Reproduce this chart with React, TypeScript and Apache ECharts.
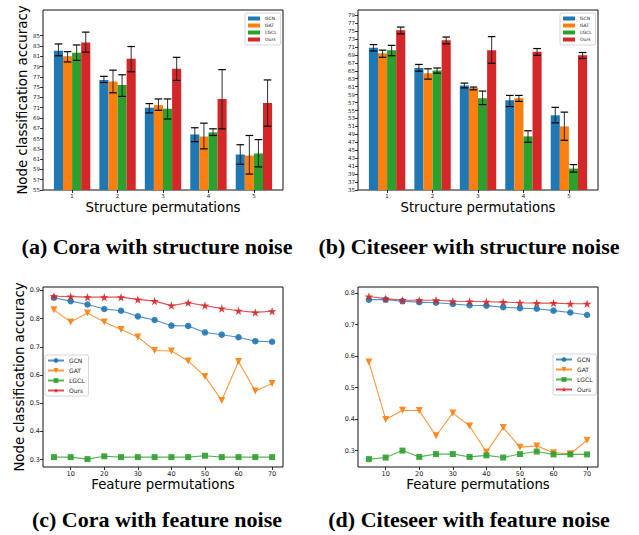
import React, { useEffect, useRef } from "react";
import * as echarts from "echarts";

// ---------- data ----------
const structX = [1, 2, 3, 4, 5];
const structTicks = [1, 2, 3, 4, 5];

const coraGCN = [82.1, 76.4, 71.0, 65.8, 61.9];
const coraGCNLo = [81.1, 75.9, 70.0, 64.4, 60.0];
const coraGCNHi = [83.4, 77.1, 71.8, 67.1, 63.8];
const coraGAT = [81.0, 76.1, 71.5, 65.4, 61.7];
const coraGATLo = [79.9, 73.9, 70.5, 63.0, 58.1];
const coraGATHi = [81.9, 78.3, 72.7, 68.0, 65.6];
const coraLGCL = [81.7, 75.4, 70.8, 66.2, 62.1];
const coraLGCLLo = [80.2, 73.2, 68.8, 65.6, 59.5];
const coraLGCLHi = [83.2, 77.4, 72.7, 66.9, 64.8];
const coraOurs = [83.7, 80.5, 78.6, 72.7, 71.9];
const coraOursLo = [81.8, 78.0, 76.3, 66.9, 67.4];
const coraOursHi = [85.7, 82.9, 80.8, 78.4, 76.4];

const citeGCN = [70.8, 65.7, 61.3, 57.6, 53.8];
const citeGCNLo = [70.0, 64.9, 60.7, 56.0, 51.9];
const citeGCNHi = [71.6, 66.6, 61.9, 58.8, 55.8];
const citeGAT = [69.4, 64.4, 60.7, 58.1, 51.0];
const citeGATLo = [68.4, 62.9, 60.2, 57.3, 47.5];
const citeGATHi = [70.2, 65.5, 60.9, 58.8, 54.6];
const citeLGCL = [70.2, 65.1, 58.1, 48.5, 40.4];
const citeLGCLLo = [68.8, 64.4, 56.5, 47.0, 39.5];
const citeLGCLHi = [71.4, 65.7, 59.9, 49.9, 41.4];
const citeOurs = [75.2, 72.7, 70.2, 69.8, 68.9];
const citeOursLo = [74.3, 71.8, 66.9, 68.9, 68.1];
const citeOursHi = [76.0, 73.5, 73.6, 70.6, 69.6];

const coraYTicks = [55, 57, 59, 61, 63, 65, 67, 69, 71, 73, 75, 77, 79, 81, 83, 85];
const citeYTicks = [35, 37, 39, 41, 43, 45, 47, 49, 51, 53, 55, 57, 59, 61, 63, 65, 67, 69, 71, 73, 75, 77, 79];

const featX = [5, 10, 15, 20, 25, 30, 35, 40, 45, 50, 55, 60, 65, 70];
const featXTicks = [10, 20, 30, 40, 50, 60, 70];

const coraFGCN = [0.874, 0.862, 0.85, 0.834, 0.828, 0.808, 0.795, 0.775, 0.774, 0.751, 0.743, 0.734, 0.72, 0.718];
const coraFGAT = [0.831, 0.788, 0.82, 0.788, 0.761, 0.735, 0.687, 0.685, 0.65, 0.595, 0.51, 0.648, 0.543, 0.57];
const coraFLGCL = [0.309, 0.309, 0.302, 0.312, 0.309, 0.309, 0.309, 0.309, 0.309, 0.314, 0.309, 0.309, 0.309, 0.309];
const coraFOurs = [0.879, 0.878, 0.876, 0.876, 0.876, 0.868, 0.862, 0.846, 0.856, 0.846, 0.836, 0.828, 0.822, 0.826];

const citeFGCN = [0.779, 0.779, 0.774, 0.771, 0.769, 0.765, 0.761, 0.76, 0.755, 0.752, 0.75, 0.744, 0.738, 0.73];
const citeFGAT = [0.581, 0.399, 0.428, 0.427, 0.347, 0.419, 0.378, 0.295, 0.373, 0.311, 0.315, 0.293, 0.29, 0.333];
const citeFLGCL = [0.273, 0.278, 0.3, 0.28, 0.289, 0.289, 0.28, 0.285, 0.278, 0.289, 0.297, 0.288, 0.288, 0.288];
const citeFOurs = [0.789, 0.782, 0.777, 0.777, 0.777, 0.774, 0.773, 0.772, 0.771, 0.769, 0.768, 0.768, 0.766, 0.766];

const coraFYTicks = [0.3, 0.4, 0.5, 0.6, 0.7, 0.8, 0.9];
const citeFYTicks = [0.3, 0.4, 0.5, 0.6, 0.7, 0.8];

const methods = ["GCN", "GAT", "LGCL", "Ours"];
const captions = [
  "(a) Cora with structure noise",
  "(b) Citeseer with structure noise",
  "(c) Cora with feature noise",
  "(d) Citeseer with feature noise",
];
const xNameStruct = "Structure permutations";
const xNameFeat = "Feature permutations";
const yName = "Node classification accuracy";

// ---------- styles ----------
const COLORS = ["#1f77b4", "#ff7f0e", "#2ca02c", "#d62728"];
const FONT = "DejaVu Sans";
const STAR = "path://M50,0 L61.2,34.5 L97.6,34.5 L68.2,55.9 L79.4,90.5 L50,69.1 L20.6,90.5 L31.8,55.9 L2.4,34.5 L38.8,34.5 Z";

function barSeries(name, colorIdx, vals, lo, hi, offset, gridIdx, base) {
  return {
    type: "custom",
    name,
    xAxisIndex: gridIdx,
    yAxisIndex: gridIdx,
    itemStyle: { color: COLORS[colorIdx] },
    encode: { x: 0, y: 1 },
    data: structX.map((x, i) => [x, vals[i], lo[i], hi[i]]),
    renderItem: (params, api) => {
      const x = api.value(0) + offset;
      const v = api.value(1);
      const l = api.value(2);
      const h = api.value(3);
      const p0 = api.coord([x - 0.1, v]);
      const p1 = api.coord([x + 0.1, base]);
      const c = api.coord([x, l]);
      const d = api.coord([x, h]);
      const cap = 3.8;
      const ls = { stroke: "#000", lineWidth: 1.2 };
      return {
        type: "group",
        children: [
          {
            type: "rect",
            shape: { x: p0[0], y: p0[1], width: p1[0] - p0[0], height: p1[1] - p0[1] },
            style: { fill: COLORS[colorIdx] },
          },
          { type: "line", shape: { x1: c[0], y1: c[1], x2: d[0], y2: d[1] }, style: { stroke: "#222", lineWidth: 1.1, opacity: 0.85 } },
          { type: "line", shape: { x1: c[0] - cap, y1: c[1], x2: c[0] + cap, y2: c[1] }, style: ls },
          { type: "line", shape: { x1: d[0] - cap, y1: d[1], x2: d[0] + cap, y2: d[1] }, style: ls },
        ],
      };
    },
  };
}

const symbolCfg = [
  { symbol: "circle", symbolSize: 6.5, symbolRotate: 0 },
  { symbol: "triangle", symbolSize: 7, symbolRotate: 180 },
  { symbol: "rect", symbolSize: 6, symbolRotate: 0 },
  { symbol: STAR, symbolSize: 8.5, symbolRotate: 0 },
];

function lineSeries(name, idx, vals, gridIdx) {
  return {
    type: "line",
    name,
    xAxisIndex: gridIdx,
    yAxisIndex: gridIdx,
    symbol: symbolCfg[idx].symbol,
    symbolSize: symbolCfg[idx].symbolSize,
    symbolRotate: symbolCfg[idx].symbolRotate,
    showSymbol: true,
    lineStyle: { color: COLORS[idx], width: 1.1, opacity: 0.8 },
    itemStyle: { color: COLORS[idx], opacity: 0.9 },
    data: featX.map((x, i) => [x, vals[i]]),
  };
}

function xAxis(gridIndex, min, max, ticks, name, fs) {
  return {
    type: "value",
    gridIndex,
    min,
    max,
    name,
    nameLocation: "middle",
    nameGap: 11,
    nameTextStyle: { fontSize: 13.3, fontFamily: FONT, color: "#000" },
    axisLine: { show: false },
    axisTick: { show: true, length: 3, customValues: ticks, lineStyle: { color: "#000", width: 0.8 } },
    axisLabel: { customValues: ticks, fontSize: fs, fontFamily: FONT, color: "#222", margin: 3 },
    splitLine: { show: false },
  };
}

function yAxis(gridIndex, min, max, ticks, name, fs, fmt) {
  return {
    type: "value",
    gridIndex,
    min,
    max,
    name,
    nameLocation: "middle",
    nameRotate: 90,
    nameGap: 14,
    nameTextStyle: { fontSize: 13.3, fontFamily: FONT, color: "#000" },
    axisLine: { show: false },
    axisTick: { show: true, length: 3, customValues: ticks, lineStyle: { color: "#000", width: 0.8 } },
    axisLabel: { customValues: ticks, fontSize: fs, fontFamily: FONT, color: "#222", margin: 3, formatter: fmt },
    splitLine: { show: false },
  };
}

function legendCfg(names, left, top, opts) {
  return {
    left,
    top,
    orient: "vertical",
    data: names,
    formatter: (n) => n.split("|")[0],
    borderColor: "#ccc",
    borderWidth: 0.8,
    borderRadius: 2,
    backgroundColor: "rgba(255,255,255,0.8)",
    selectedMode: false,
    ...opts,
  };
}

export default function App() {
  const ref = useRef(null);
  useEffect(() => {
    const chart = echarts.init(ref.current, null, { renderer: "svg" });
    const grids = [
      { left: 43, top: 10, width: 240, height: 180 },
      { left: 358, top: 10, width: 240, height: 180 },
      { left: 43, top: 287, width: 240, height: 180 },
      { left: 358, top: 287, width: 240, height: 180 },
    ].map((g) => ({ ...g, show: true, borderColor: "#111", borderWidth: 1, backgroundColor: "#fff" }));

    const intFmt = (v) => String(Math.round(v));
    const decFmt = (v) => v.toFixed(1);

    const coraBars = [
      [coraGCN, coraGCNLo, coraGCNHi],
      [coraGAT, coraGATLo, coraGATHi],
      [coraLGCL, coraLGCLLo, coraLGCLHi],
      [coraOurs, coraOursLo, coraOursHi],
    ];
    const citeBars = [
      [citeGCN, citeGCNLo, citeGCNHi],
      [citeGAT, citeGATLo, citeGATHi],
      [citeLGCL, citeLGCLLo, citeLGCLHi],
      [citeOurs, citeOursLo, citeOursHi],
    ];
    const offsets = [-0.3, -0.1, 0.1, 0.3];
    const coraF = [coraFGCN, coraFGAT, coraFLGCL, coraFOurs];
    const citeF = [citeFGCN, citeFGAT, citeFLGCL, citeFOurs];

    const series = [];
    methods.forEach((m, i) => series.push(barSeries(m, i, coraBars[i][0], coraBars[i][1], coraBars[i][2], offsets[i], 0, 55)));
    methods.forEach((m, i) => series.push(barSeries(m, i, citeBars[i][0], citeBars[i][1], citeBars[i][2], offsets[i], 1, 35)));
    methods.forEach((m, i) => series.push(lineSeries(m + "|c", i, coraF[i], 2)));
    methods.forEach((m, i) => series.push(lineSeries(m + "|d", i, citeF[i], 3)));

    const barLegendOpts = {
      itemWidth: 12,
      itemHeight: 4,
      itemGap: 2,
      padding: [3, 4, 3, 3],
      textStyle: { fontSize: 4.5, fontFamily: FONT, color: "#222", lineHeight: 5 },
    };
    const lineLegendOpts = {
      itemWidth: 16,
      itemHeight: 6,
      itemGap: 3,
      padding: [2, 4, 2, 2],
      textStyle: { fontSize: 6, fontFamily: FONT, color: "#222", lineHeight: 7 },
    };

    const capStyle = { font: 'bold 22px "Liberation Serif"', fill: "#000" };

    chart.setOption({
      animation: false,
      backgroundColor: "#fff",
      grid: grids,
      xAxis: [
        xAxis(0, 0.36, 5.64, structTicks, xNameStruct, 5.5),
        xAxis(1, 0.36, 5.64, structTicks, xNameStruct, 5.5),
        xAxis(2, 1.75, 73.25, featXTicks, xNameFeat, 6.5),
        xAxis(3, 1.75, 73.25, featXTicks, xNameFeat, 6.5),
      ],
      yAxis: [
        yAxis(0, 55, 90, coraYTicks, yName, 5.5, intFmt),
        yAxis(1, 35, 80.3, citeYTicks, "", 5.5, intFmt),
        yAxis(2, 0.274, 0.912, coraFYTicks, yName, 6.5, decFmt),
        yAxis(3, 0.248, 0.819, citeFYTicks, "", 6.5, decFmt),
      ],
      legend: [
        legendCfg(methods.map((m) => ({ name: m, icon: "rect" })), 245, 13, barLegendOpts),
        legendCfg(methods.map((m) => ({ name: m, icon: "rect" })), 560, 13, barLegendOpts),
        legendCfg(methods.map((m) => m + "|c"), 45, 355, lineLegendOpts),
        legendCfg(methods.map((m) => m + "|d"), 553, 354, lineLegendOpts),
      ],
      series,
      graphic: [
        { type: "text", x: 157, y: 246, style: { ...capStyle, text: captions[0], textAlign: "center", textVerticalAlign: "middle", align: "center", verticalAlign: "middle" } },
        { type: "text", x: 469, y: 246, style: { ...capStyle, text: captions[1], textAlign: "center", textVerticalAlign: "middle", align: "center", verticalAlign: "middle" } },
        { type: "text", x: 157, y: 519, style: { ...capStyle, text: captions[2], textAlign: "center", textVerticalAlign: "middle", align: "center", verticalAlign: "middle" } },
        { type: "text", x: 469, y: 519, style: { ...capStyle, text: captions[3], textAlign: "center", textVerticalAlign: "middle", align: "center", verticalAlign: "middle" } },
      ],
    });
    return () => chart.dispose();
  }, []);
  return <div ref={ref} style={{ position: "fixed", left: 0, top: 0, width: 639, height: 535, background: "#fff" }} />;
}
